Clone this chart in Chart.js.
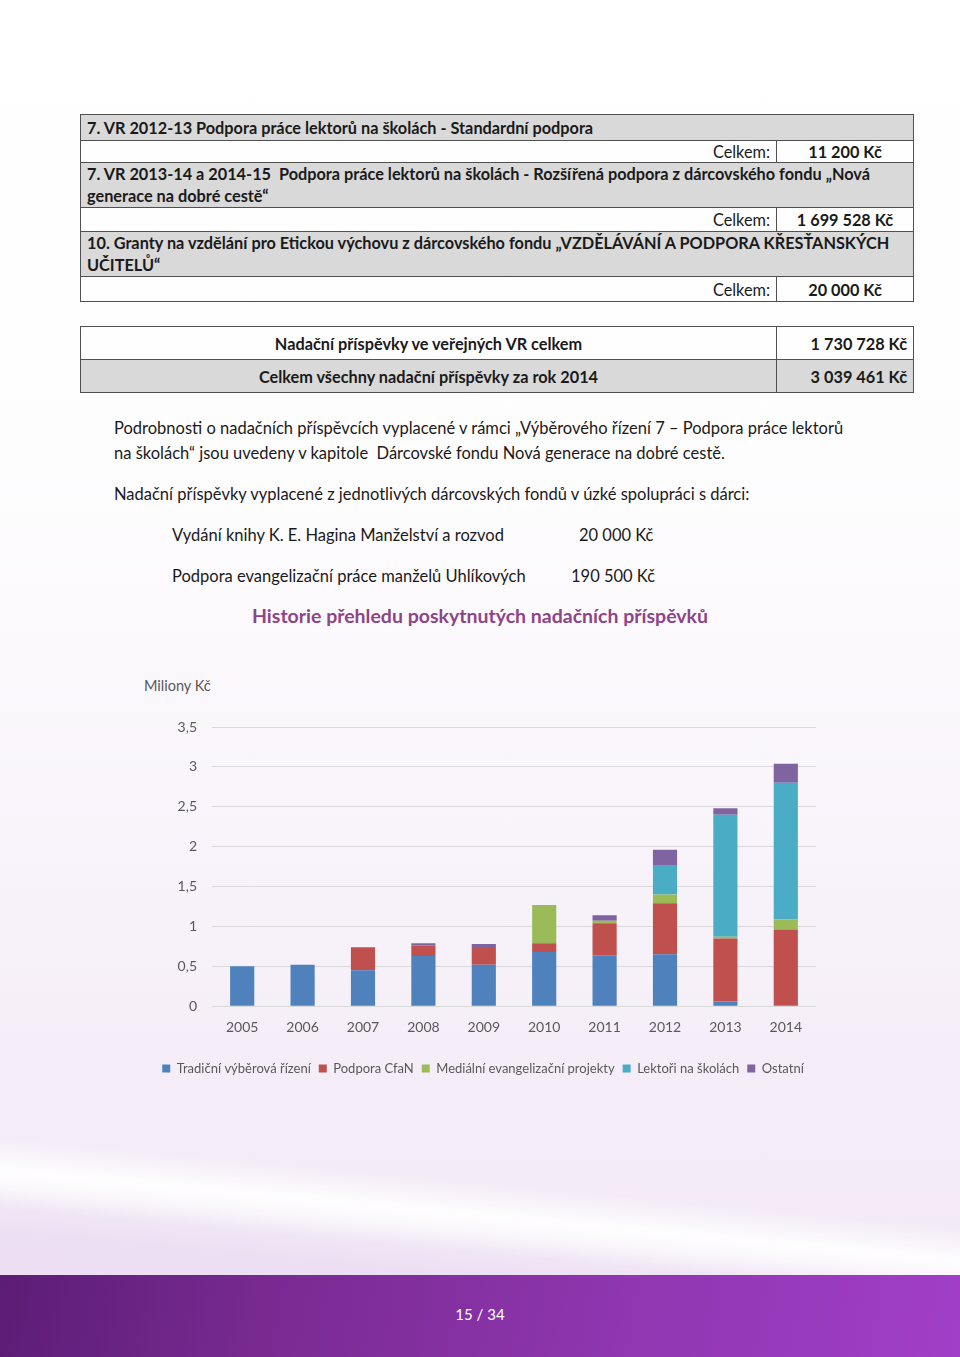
<!DOCTYPE html>
<html lang="cs">
<head>
<meta charset="utf-8">
<title>Historie přehledu poskytnutých nadačních příspěvků</title>
<script src="https://cdn.jsdelivr.net/npm/chart.js@4.4.1/dist/chart.umd.min.js"></script>
<style>
  html, body { margin: 0; padding: 0; }
  body { width: 960px; height: 1357px; overflow: hidden; font-family: Lato, "Open Sans", sans-serif; color: #1a1a1a; }
  #page {
    position: relative; width: 960px; height: 1357px; overflow: hidden;
    background: linear-gradient(to bottom, #ffffff 0px, #fefdfe 480px, #f9f5fb 800px, #f5eef8 1050px, #f2e9f6 1275px);
  }
  .swoosh {
    position: absolute; left: -100px; top: 1128px; width: 1200px; height: 70px;
    background: linear-gradient(to bottom, rgba(255,255,255,0) 0%, rgba(255,255,255,0.9) 45%, rgba(255,255,255,0.7) 65%, rgba(255,255,255,0) 100%);
    transform: rotate(5.4deg); transform-origin: 0 0;
  }
  .shade {
    position: absolute; left: -100px; top: 1175px; width: 1200px; height: 160px;
    background: linear-gradient(to bottom, rgba(237,222,243,0.0) 0%, rgba(237,222,243,0.9) 30%, rgba(237,222,243,1) 100%);
    transform: rotate(5.4deg); transform-origin: 0 0;
  }
  #footer {
    position: absolute; left: 0; top: 1275px; width: 960px; height: 82px;
    background: linear-gradient(100deg, #5c1d76 0%, #7a2b93 30%, #8f36b0 65%, #a13fc8 100%);
    color: #fff; text-align: center; font-size: 15px; line-height: 78px;
  }
  .tbl { position: absolute; left: 80px; width: 834px; border-collapse: collapse; font-size: 16.3px; }
  .tbl td { border: 1px solid #505050; padding: 0 6px; }
  .gray td { background: #d9d9d9; }
  .b { font-weight: bold; }
  .txt { position: absolute; font-size: 16.5px; white-space: nowrap; }
  #title { position: absolute; left: 0; width: 960px; top: 604px; text-align: center; font-size: 19.5px; font-weight: bold; color: #8e4488; }
  #unit { position: absolute; left: 144px; top: 677px; font-size: 14.5px; color: #595959; }
  #chartBox { position: absolute; left: 150px; top: 690px; width: 690px; height: 400px; }
</style>
</head>
<body>
<div id="page">
  <div class="shade"></div>
  <div class="swoosh"></div>

  <table class="tbl" style="top:114px">
    <tr class="gray" style="height:26px"><td colspan="2" class="b">7. VR 2012-13 Podpora práce lektorů na školách - Standardní podpora</td></tr>
    <tr style="height:22px"><td style="text-align:right">Celkem:</td><td class="b" style="width:124px;text-align:center">11 200 Kč</td></tr>
    <tr class="gray" style="height:45px"><td colspan="2" class="b" style="line-height:22px">7. VR 2013-14 a 2014-15&nbsp; Podpora práce lektorů na školách - Rozšířená podpora z dárcovského fondu „Nová generace na dobré cestě“</td></tr>
    <tr style="height:24px"><td style="text-align:right">Celkem:</td><td class="b" style="text-align:center">1 699 528 Kč</td></tr>
    <tr class="gray" style="height:45px"><td colspan="2" class="b" style="line-height:22px">10. Granty na vzdělání pro Etickou výchovu z dárcovského fondu „VZDĚLÁVÁNÍ A PODPORA KŘESŤANSKÝCH UČITELŮ“</td></tr>
    <tr style="height:25px"><td style="text-align:right">Celkem:</td><td class="b" style="text-align:center">20 000 Kč</td></tr>
  </table>

  <table class="tbl" style="top:326px">
    <tr style="height:33px"><td class="b" style="text-align:center">Nadační příspěvky ve veřejných VR celkem</td><td class="b" style="width:124px;text-align:right">1 730 728 Kč</td></tr>
    <tr class="gray" style="height:33px"><td class="b" style="text-align:center">Celkem všechny nadační příspěvky za rok 2014</td><td class="b" style="text-align:right">3 039 461 Kč</td></tr>
  </table>

  <div class="txt" style="left:114px;top:418px">Podrobnosti o nadačních příspěvcích vyplacené v rámci „Výběrového řízení 7 – Podpora práce lektorů</div>
  <div class="txt" style="left:114px;top:443px">na školách“ jsou uvedeny v kapitole&nbsp; Dárcovské fondu Nová generace na dobré cestě.</div>
  <div class="txt" style="left:114px;top:484px">Nadační příspěvky vyplacené z jednotlivých dárcovských fondů v úzké spolupráci s dárci:</div>
  <div class="txt" style="left:172px;top:525px">Vydání knihy K. E. Hagina Manželství a rozvod</div>
  <div class="txt" style="left:579px;top:525px">20 000 Kč</div>
  <div class="txt" style="left:172px;top:566px">Podpora evangelizační práce manželů Uhlíkových</div>
  <div class="txt" style="left:571px;top:566px">190 500 Kč</div>

  <div id="title">Historie přehledu poskytnutých nadačních příspěvků</div>
  <div id="unit">Miliony Kč</div>
  <div id="chartBox"><canvas id="myChart"></canvas></div>

  <div id="footer">15 / 34</div>
</div>

<script>
// hodnoty (miliony Kč)
var years = ['2005', '2006', '2007', '2008', '2009', '2010', '2011', '2012', '2013', '2014'];
var tradicni = [0.50, 0.52, 0.45, 0.63, 0.52, 0.68, 0.64, 0.65, 0.06, 0];
var cfan = [0, 0, 0.29, 0.13, 0.21, 0.11, 0.40, 0.64, 0.79, 0.96];
var medialni = [0, 0, 0, 0, 0, 0.48, 0.03, 0.11, 0.02, 0.13];
var lektori = [0, 0, 0, 0, 0, 0, 0, 0.37, 1.53, 1.71];
var ostatni = [0, 0, 0, 0.03, 0.05, 0, 0.07, 0.19, 0.08, 0.24];
var yTicks = [0, 0.5, 1, 1.5, 2, 2.5, 3, 3.5];

var seriesNames = ['Tradiční výběrová řízení', 'Podpora CfaN', 'Mediální evangelizační projekty', 'Lektoři na školách', 'Ostatní'];
var seriesData = [tradicni, cfan, medialni, lektori, ostatni];
var colors = ['#4f81bd', '#c0504d', '#9bbb59', '#4bacc6', '#8064a2'];

Chart.defaults.font.family = 'Lato, "Open Sans", sans-serif';
Chart.defaults.color = '#595959';

var datasets = [];
seriesNames.map(function (name, i) {
    datasets.push({
        label: name,
        data: seriesData[i],
        backgroundColor: colors[i],
        borderWidth: 0,
        barPercentage: 0.4,
        categoryPercentage: 1
    });
    return true;
});

new Chart(document.getElementById('myChart'), {
    type: 'bar',
    data: { labels: years, datasets: datasets },
    options: {
        responsive: true,
        maintainAspectRatio: false,
        animation: false,
        layout: { padding: { top: 37, right: 24, left: 0, bottom: 5 } },
        plugins: {
            tooltip: { enabled: false },
            legend: {
                position: 'bottom',
                labels: { boxWidth: 8, boxHeight: 8, padding: 8, font: { size: 13 } }
            }
        },
        scales: {
            x: {
                stacked: true,
                grid: { display: false, drawTicks: false },
                border: { display: false },
                afterFit: function (scale) { scale.height += 5; },
                ticks: { padding: 13, font: { size: 14 } }
            },
            y: {
                stacked: true,
                min: 0,
                max: 3.5,
                afterFit: function (scale) { scale.width = 62; },
                afterBuildTicks: function (scale) {
                    scale.ticks = yTicks.map(function (v) { return { value: v }; });
                },
                grid: { color: '#d9d9d9', drawTicks: false },
                border: { display: false },
                ticks: {
                    padding: 15,
                    font: { size: 14 },
                    callback: function (v) { return String(v).replace('.', ','); }
                }
            }
        }
    }
});
</script>
</body>
</html>
